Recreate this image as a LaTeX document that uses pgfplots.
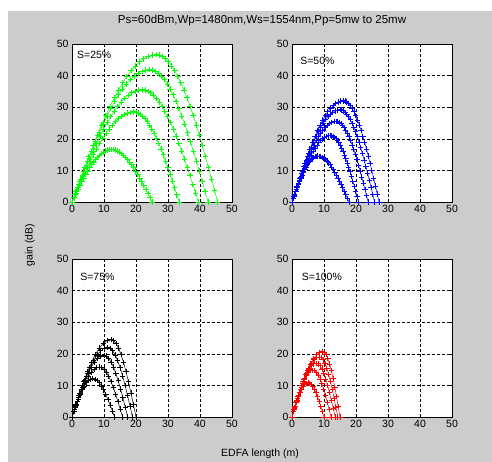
\documentclass[border=0pt]{standalone}
\usepackage{fontspec}
\setmainfont{Liberation Sans}
\usepackage{pgfplots}
\usepackage{pgfplotstable}
\pgfplotsset{compat=1.18}
\definecolor{figbg}{RGB}{204,204,204}
\definecolor{mgreen}{RGB}{0,255,0}
\definecolor{mblue}{RGB}{0,0,255}
\definecolor{mred}{RGB}{255,0,0}

\pgfplotstableread{
a1 b1 a2 b2 a3 b3 a4 b4 a5 b5
0 0 0 0 0 0 0 0 0 0
0.62 1.30 0.965 2.24 1.1 2.79 1.215 3.29 1.32 3.66
1.24 2.60 1.93 4.46 2.2 5.55 2.43 6.55 2.64 7.29
1.86 3.87 2.895 6.65 3.3 8.29 3.645 9.78 3.96 10.88
2.48 5.13 3.86 8.81 4.4 10.97 4.86 12.95 5.28 14.40
3.10 6.35 4.825 10.91 5.5 13.59 6.075 16.04 6.60 17.83
3.72 7.54 5.79 12.94 6.6 16.12 7.29 19.02 7.92 21.16
4.34 8.67 6.755 14.89 7.7 18.55 8.505 21.89 9.24 24.35
4.96 9.76 7.72 16.75 8.8 20.87 9.72 24.63 10.56 27.39
5.58 10.78 8.685 18.51 9.9 23.05 10.935 27.21 11.88 30.26
6.2 11.74 9.65 20.15 11 25.10 12.15 29.63 13.2 32.95
6.82 12.62 10.615 21.67 12.1 26.99 13.365 31.86 14.52 35.43
7.44 13.43 11.58 23.06 13.2 28.72 14.58 33.90 15.84 37.70
8.06 14.15 12.545 24.30 14.3 30.27 15.795 35.72 17.16 39.73
8.68 14.79 13.51 25.39 15.4 31.63 17.01 37.33 18.48 41.52
9.30 15.34 14.475 26.33 16.5 32.80 18.225 38.71 19.80 43.05
9.92 15.79 15.44 27.11 17.6 33.76 19.44 39.85 21.12 44.32
10.54 16.14 16.405 27.71 18.7 34.52 20.655 40.74 22.44 45.31
11.16 16.40 17.37 28.15 19.8 35.06 21.87 41.38 23.76 46.03
11.78 16.55 18.335 28.41 20.9 35.39 23.085 41.77 25.08 46.46
12.4 16.6 19.3 28.5 22 35.5 24.3 41.9 26.4 46.6
13.03 16.55 20.01 28.41 22.875 35.39 25.21 41.77 27.355 46.46
13.66 16.40 20.72 28.15 23.75 35.06 26.12 41.38 28.31 46.03
14.29 16.14 21.43 27.71 24.625 34.52 27.03 40.74 29.265 45.31
14.92 15.79 22.14 27.11 25.5 33.76 27.94 39.85 30.22 44.32
15.55 15.34 22.85 26.33 26.375 32.80 28.85 38.71 31.175 43.05
16.18 14.79 23.56 25.39 27.25 31.63 29.76 37.33 32.13 41.52
16.81 14.15 24.27 24.30 28.125 30.27 30.67 35.72 33.085 39.73
17.44 13.43 24.98 23.06 29 28.72 31.58 33.90 34.04 37.70
18.07 12.62 25.69 21.67 29.875 26.99 32.49 31.86 34.995 35.43
18.7 11.74 26.4 20.15 30.75 25.10 33.4 29.63 35.95 32.95
19.33 10.78 27.11 18.51 31.625 23.05 34.31 27.21 36.905 30.26
19.96 9.76 27.82 16.75 32.5 20.87 35.22 24.63 37.86 27.39
20.59 8.67 28.53 14.89 33.375 18.55 36.13 21.89 38.815 24.35
21.22 7.54 29.24 12.94 34.25 16.12 37.04 19.02 39.77 21.16
21.85 6.35 29.95 10.91 35.125 13.59 37.95 16.04 40.725 17.83
22.48 5.13 30.66 8.81 36 10.97 38.86 12.95 41.68 14.40
23.11 3.87 31.37 6.65 36.875 8.29 39.77 9.78 42.635 10.88
23.74 2.60 32.08 4.46 37.75 5.55 40.68 6.55 43.59 7.29
24.37 1.30 32.79 2.24 38.625 2.79 41.59 3.29 44.545 3.66
25.0 0 33.5 0 39.5 0 42.5 0 45.5 0
}\tA

\pgfplotstableread{
a1 b1 a2 b2 a3 b3 a4 b4 a5 b5
0 0 0 0 0 0 0 0 0 0
0.4 1.14 0.6 1.65 0.69 2.00 0.75 2.29 0.8 2.51
0.8 2.27 1.2 3.28 1.38 3.99 1.5 4.57 1.6 5.01
1.2 3.38 1.8 4.90 2.07 5.95 2.25 6.82 2.4 7.47
1.6 4.48 2.4 6.49 2.76 7.88 3.0 9.02 3.2 9.89
2.0 5.55 3.0 8.04 3.45 9.76 3.75 11.17 4.0 12.25
2.4 6.58 3.6 9.53 4.14 11.58 4.5 13.26 4.8 14.53
2.8 7.58 4.2 10.97 4.83 13.32 5.25 15.26 5.6 16.72
3.2 8.52 4.8 12.34 5.52 14.99 6.0 17.16 6.4 18.81
3.6 9.42 5.4 13.64 6.21 16.56 6.75 18.96 7.2 20.78
4.0 10.25 6.0 14.85 6.9 18.03 7.5 20.65 8.0 22.63
4.4 11.03 6.6 15.97 7.59 19.39 8.25 22.20 8.8 24.33
4.8 11.73 7.2 16.99 8.28 20.63 9.0 23.62 9.6 25.89
5.2 12.36 7.8 17.90 8.97 21.74 9.75 24.90 10.4 27.28
5.6 12.92 8.4 18.71 9.66 22.72 10.5 26.02 11.2 28.51
6.0 13.40 9.0 19.40 10.35 23.56 11.25 26.98 12.0 29.56
6.4 13.79 9.6 19.97 11.04 24.25 12.0 27.77 12.8 30.44
6.8 14.10 10.2 20.42 11.73 24.80 12.75 28.39 13.6 31.12
7.2 14.32 10.8 20.74 12.42 25.19 13.5 28.84 14.4 31.61
7.6 14.46 11.4 20.93 13.11 25.42 14.25 29.11 15.2 31.90
8.0 14.5 12.0 21.0 13.8 25.5 15.0 29.2 16.0 32.0
8.49 14.46 12.44 20.93 14.3 25.42 15.54 29.11 16.56 31.90
8.98 14.32 12.88 20.74 14.8 25.19 16.08 28.84 17.12 31.61
9.47 14.10 13.32 20.42 15.3 24.80 16.62 28.39 17.68 31.12
9.96 13.79 13.76 19.97 15.8 24.25 17.16 27.77 18.24 30.44
10.45 13.40 14.20 19.40 16.3 23.56 17.70 26.98 18.80 29.56
10.94 12.92 14.64 18.71 16.8 22.72 18.24 26.02 19.36 28.51
11.43 12.36 15.08 17.90 17.3 21.74 18.78 24.90 19.92 27.28
11.92 11.73 15.52 16.99 17.8 20.63 19.32 23.62 20.48 25.89
12.41 11.03 15.96 15.97 18.3 19.39 19.86 22.20 21.04 24.33
12.9 10.25 16.4 14.85 18.8 18.03 20.4 20.65 21.6 22.63
13.39 9.42 16.84 13.64 19.3 16.56 20.94 18.96 22.16 20.78
13.88 8.52 17.28 12.34 19.8 14.99 21.48 17.16 22.72 18.81
14.37 7.58 17.72 10.97 20.3 13.32 22.02 15.26 23.28 16.72
14.86 6.58 18.16 9.53 20.8 11.58 22.56 13.26 23.84 14.53
15.35 5.55 18.60 8.04 21.3 9.76 23.10 11.17 24.40 12.25
15.84 4.48 19.04 6.49 21.8 7.88 23.64 9.02 24.96 9.89
16.33 3.38 19.48 4.90 22.3 5.95 24.18 6.82 25.52 7.47
16.82 2.27 19.92 3.28 22.8 3.99 24.72 4.57 26.08 5.01
17.31 1.14 20.36 1.65 23.3 2.00 25.26 2.29 26.64 2.51
17.8 0 20.8 0 23.8 0 25.8 0 27.2 0
}\tB

\pgfplotstableread{
a1 b1 a2 b2 a3 b3 a4 b4 a5 b5
0 0 0 0 0 0 0 0 0 0
0.65 1.89 0.86 2.47 1 3.05 1.12 3.44 1.22 3.83
1.3 3.74 1.72 4.88 2 6.03 2.24 6.80 2.44 7.57
1.95 5.49 2.58 7.17 3 8.85 3.36 9.99 3.66 11.12
2.6 7.11 3.44 9.29 4 11.46 4.48 12.93 4.88 14.40
3.25 8.56 4.3 11.17 5 13.79 5.6 15.56 6.1 17.32
3.9 9.79 5.16 12.78 6 15.78 6.72 17.80 7.32 19.82
4.55 10.78 6.02 14.08 7 17.37 7.84 19.60 8.54 21.83
5.2 11.51 6.88 15.03 8 18.55 8.96 20.92 9.76 23.30
5.85 11.95 7.74 15.61 9 19.26 10.08 21.73 10.98 24.20
6.5 12.1 8.6 15.8 10 19.5 11.2 22.0 12.2 24.5
7.18 11.95 9.32 15.61 10.74 19.26 11.97 21.73 12.98 24.20
7.86 11.51 10.04 15.03 11.48 18.55 12.74 20.92 13.76 23.30
8.54 10.78 10.76 14.08 12.22 17.37 13.51 19.60 14.54 21.83
9.22 9.79 11.48 12.78 12.96 15.78 14.28 17.80 15.32 19.82
9.9 8.56 12.2 11.17 13.7 13.79 15.05 15.56 16.1 17.32
10.58 7.11 12.92 9.29 14.44 11.46 15.82 12.93 16.88 14.40
11.26 5.49 13.64 7.17 15.18 8.85 16.59 9.99 17.66 11.12
11.94 3.74 14.36 4.88 15.92 6.03 17.36 6.80 18.44 7.57
12.62 1.89 15.08 2.47 16.66 3.05 18.13 3.44 19.22 3.83
13.3 0 15.8 0 17.4 0 18.9 0 20.0 0
}\tC

\pgfplotstableread{
a1 b1 a2 b2 a3 b3 a4 b4 a5 b5
0 0 0 0 0 0 0 0 0 0
0.5 1.69 0.65 2.32 0.76 2.66 0.86 2.97 0.96 3.24
1.0 3.34 1.3 4.57 1.52 5.25 1.72 5.87 1.92 6.40
1.5 4.90 1.95 6.72 2.28 7.72 2.58 8.63 2.88 9.40
2.0 6.35 2.6 8.70 3.04 9.99 3.44 11.17 3.84 12.17
2.5 7.64 3.25 10.47 3.8 12.02 4.3 13.43 4.8 14.64
3.0 8.74 3.9 11.97 4.56 13.75 5.16 15.37 5.76 16.75
3.5 9.62 4.55 13.19 5.32 15.15 6.02 16.93 6.72 18.44
4.0 10.27 5.2 14.08 6.08 16.17 6.88 18.07 7.68 19.69
4.5 10.67 5.85 14.62 6.84 16.79 7.74 18.77 8.64 20.45
5.0 10.8 6.5 14.8 7.6 17.0 8.6 19.0 9.6 20.7
5.5 10.67 7.07 14.62 8.19 16.79 9.17 18.77 10.14 20.45
6.0 10.27 7.64 14.08 8.78 16.17 9.74 18.07 10.68 19.69
6.5 9.62 8.21 13.19 9.37 15.15 10.31 16.93 11.22 18.44
7.0 8.74 8.78 11.97 9.96 13.75 10.88 15.37 11.76 16.75
7.5 7.64 9.35 10.47 10.55 12.02 11.45 13.43 12.3 14.64
8.0 6.35 9.92 8.70 11.14 9.99 12.02 11.17 12.84 12.17
8.5 4.90 10.49 6.72 11.73 7.72 12.59 8.63 13.38 9.40
9.0 3.34 11.06 4.57 12.32 5.25 13.16 5.87 13.92 6.40
9.5 1.69 11.63 2.32 12.91 2.66 13.73 2.97 14.46 3.24
10.0 0 12.2 0 13.5 0 14.3 0 15.0 0
}\tD

\pgfplotsset{
  panel/.style={
    scale only axis, width=160pt, height=158pt,
    anchor=south west,
    xmin=0, xmax=50, ymin=0, ymax=50,
    xtick={0,10,...,50}, ytick={0,10,...,50},
    grid=major,
    major grid style={black, dash pattern=on 2.5pt off 2.5pt, line width=0.5pt},
    axis line style={black, line width=0.6pt},
    tick style={black, line width=0.5pt},
    tick align=inside, major tick length=3pt,
    axis background/.style={fill=white},
    ticklabel style={font=\fontsize{10.5}{12}\selectfont},
    /pgf/number format/assume math mode=true,
    clip=true,
  },
  curve/.style={line width=0.5pt, mark=+, mark size=2.7pt,
    mark options={line width=0.9pt, solid}},
}

\begin{document}
\begin{tikzpicture}[x=1pt,y=1pt]
\path[use as bounding box] (0,0) rectangle (492,462);
\fill[figbg] (8,0) rectangle (492,451);

\node[font=\fontsize{11.5}{13}\selectfont] at (262,441) {Ps=60dBm,Wp=1480nm,Ws=1554nm,Pp=5mw to 25mw};
\node[font=\fontsize{10.5}{12}\selectfont, rotate=90] at (30,217) {gain (dB)};
\node[font=\fontsize{10.5}{12}\selectfont] at (260,8) {EDFA length (m)};

\begin{axis}[panel, at={(72pt,260pt)}]
\pgfplotsinvokeforeach{1,...,5}{\addplot[curve, color=mgreen] table[x=a#1,y=b#1]{\tA};}
\node[anchor=north west, font=\fontsize{10.5}{12}\selectfont] at (rel axis cs:0.01,0.975) {S=25\%};
\end{axis}

\begin{axis}[panel, at={(292pt,260pt)}]
\pgfplotsinvokeforeach{1,...,5}{\addplot[curve, color=mblue] table[x=a#1,y=b#1]{\tB};}
\node[anchor=north west, font=\fontsize{10.5}{12}\selectfont] at (rel axis cs:0.03,0.94) {S=50\%};
\end{axis}

\begin{axis}[panel, at={(72pt,45pt)}]
\pgfplotsinvokeforeach{1,...,5}{\addplot[curve, color=black] table[x=a#1,y=b#1]{\tC};}
\node[anchor=north west, font=\fontsize{10.5}{12}\selectfont] at (rel axis cs:0.03,0.93) {S=75\%};
\end{axis}

\begin{axis}[panel, at={(292pt,45pt)}]
\pgfplotsinvokeforeach{1,...,5}{\addplot[curve, color=mred] table[x=a#1,y=b#1]{\tD};}
\node[anchor=north west, font=\fontsize{10.5}{12}\selectfont] at (rel axis cs:0.04,0.93) {S=100\%};
\end{axis}
\end{tikzpicture}
\end{document}
